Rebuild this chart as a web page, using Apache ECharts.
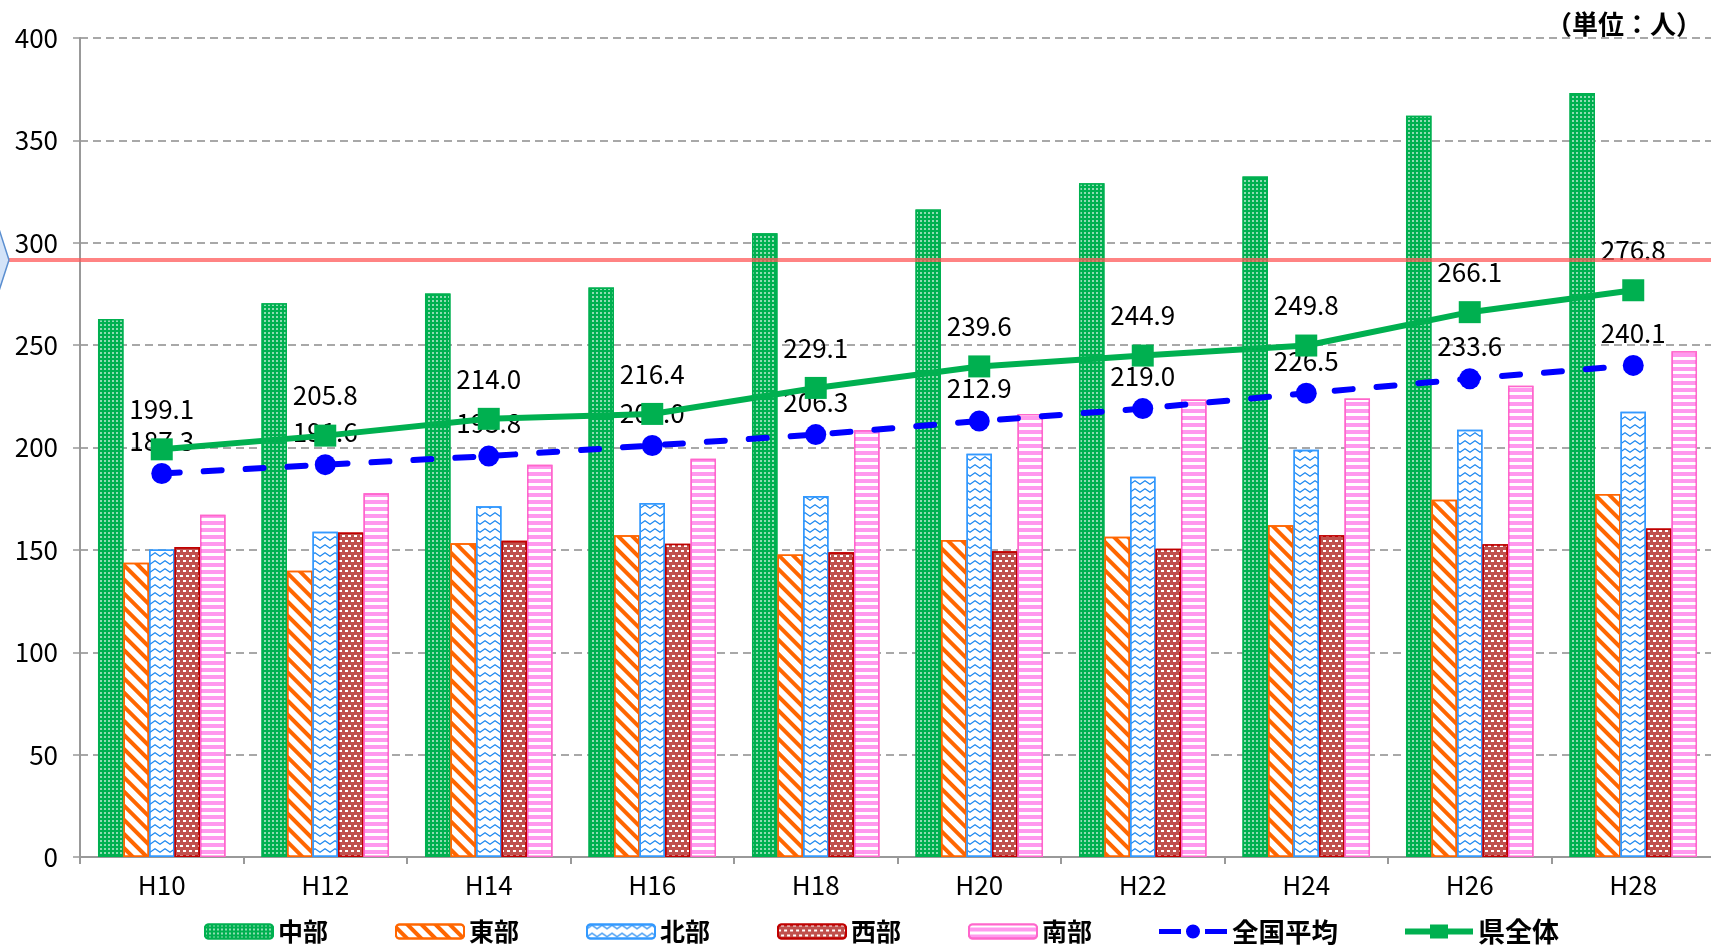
<!DOCTYPE html>
<html lang="ja">
<head>
<meta charset="utf-8">
<title>地域別の推移</title>
<script src="https://cdn.jsdelivr.net/npm/echarts@6/dist/echarts.min.js"></script>
<style>
  html, body { margin: 0; padding: 0; background: #ffffff; overflow: hidden; }
  /* 最終区分がやや右にはみ出すため、描画領域を画面幅より広く取る */
  #chart { width: 1725px; height: 946px; }
</style>
</head>
<body>
<div id="chart"></div>
<script>
// 年度（平成）
const categories = ['H10', 'H12', 'H14', 'H16', 'H18', 'H20', 'H22', 'H24', 'H26', 'H28'];

// 地域別の値（人）
const chubu  = [262.8, 270.5, 275.2, 278.1, 304.7, 316.2, 329.1, 332.4, 362.0, 373.1];
const tobu   = [143.7, 139.8, 153.2, 157.1, 147.8, 154.8, 156.4, 162.0, 174.5, 177.3];
const hokubu = [150.2, 158.9, 171.3, 172.9, 176.3, 197.0, 185.7, 198.9, 208.7, 217.5];
const seibu  = [151.4, 158.5, 154.4, 153.0, 148.9, 149.3, 150.5, 157.2, 152.8, 160.5];
const nanbu  = [167.2, 177.6, 191.6, 194.5, 208.5, 216.4, 223.4, 223.9, 230.1, 247.0];

// 全国平均・県全体
const national   = [187.3, 191.6, 195.8, 201.0, 206.3, 212.9, 219.0, 226.5, 233.6, 240.1];
const prefecture = [199.1, 205.8, 214.0, 216.4, 229.1, 239.6, 244.9, 249.8, 266.1, 276.8];

// 縦軸の目盛
const yMin = 0;
const yMax = 400;
const yStep = 50;

// 赤い横線の位置（値）
const redGuideValue = 291.6;

const FONT = '"Noto Sans CJK JP", "Noto Sans", sans-serif';

// 凡例用アイコン（線＋マーカー）
const ICON_LINE_CIRCLE = 'path://M0,4.5 L22,4.5 L22,9.5 L0,9.5 Z M46,4.5 L68,4.5 L68,9.5 L46,9.5 Z M27,7 A7,7 0 1,0 41,7 A7,7 0 1,0 27,7 Z';
const ICON_LINE_SQUARE = 'path://M0,4 L25,4 L25,0 L43,0 L43,4 L68,4 L68,10 L43,10 L43,14 L25,14 L25,10 L0,10 Z';

const chart = echarts.init(document.getElementById('chart'), null, { renderer: 'canvas' });

function barSeries(name, data, itemStyle) {
  return {
    name: name,
    type: 'bar',
    data: data,
    barGap: '0%',
    barCategoryGap: '22%',
    itemStyle: itemStyle,
    emphasis: { disabled: true },
    z: 2
  };
}

const series = [
  barSeries('中部', chubu, {
    color: '#00B050',
    borderColor: '#00B050',
    borderWidth: 1.5,
    decal: { symbol: 'rect', color: '#ffffff', symbolSize: 0.75, dashArrayX: [2, 2], dashArrayY: [2, 2] }
  }),
  barSeries('東部', tobu, {
    color: '#ffffff',
    borderColor: '#FF6600',
    borderWidth: 1.5,
    decal: { symbol: 'rect', color: '#FF6600', symbolSize: 1, dashArrayX: [1, 0], dashArrayY: [4, 6], rotation: Math.PI / 4 }
  }),
  barSeries('北部', hokubu, {
    color: '#ffffff',
    borderColor: '#3399FF',
    borderWidth: 1.5,
    decal: {
      symbol: 'path://M0,3.6 L5,0 L10,3.6 L10,5 L5,1.4 L0,5 Z',
      symbolKeepAspect: false,
      color: '#1E88F0',
      symbolSize: 1,
      dashArrayX: [10, 0],
      dashArrayY: [5, 3]
    }
  }),
  barSeries('西部', seibu, {
    color: '#C0504D',
    borderColor: '#C00000',
    borderWidth: 1.5,
    decal: { symbol: 'rect', color: '#ffffff', symbolSize: 1, dashArrayX: [[3, 3], [0, 3, 3, 0]], dashArrayY: [2, 3] }
  }),
  barSeries('南部', nanbu, {
    color: '#FF99EE',
    borderColor: '#FF66CC',
    borderWidth: 1.5,
    decal: { symbol: 'rect', color: '#ffffff', symbolSize: 1, dashArrayX: [1, 0], dashArrayY: [3, 4] }
  }),
  {
    name: '全国平均',
    type: 'line',
    data: national,
    symbol: 'circle',
    symbolSize: 21,
    z: 5,
    lineStyle: { color: '#0000FF', width: 6, type: [18, 24], cap: 'round' },
    itemStyle: { color: '#0000FF' },
    label: {
      show: true,
      position: 'top',
      distance: 9,
      color: '#000000',
      fontSize: 26,
      fontFamily: FONT,
      formatter: p => p.value.toFixed(1)
    },
    emphasis: { disabled: true }
  },
  {
    name: '県全体',
    type: 'line',
    data: prefecture,
    symbol: 'rect',
    symbolSize: 22,
    z: 6,
    lineStyle: { color: '#00B050', width: 6 },
    itemStyle: { color: '#00B050' },
    label: {
      show: true,
      position: 'top',
      distance: 16,
      color: '#000000',
      fontSize: 26,
      fontFamily: FONT,
      formatter: p => p.value.toFixed(1)
    },
    emphasis: { disabled: true }
  }
];

chart.setOption({
  animation: false,
  backgroundColor: '#ffffff',
  textStyle: { fontFamily: FONT },
  title: {
    text: '（単位：人）',
    right: 18,
    top: 6,
    textStyle: { fontSize: 26, fontWeight: 'bold', color: '#000000', fontFamily: FONT }
  },
  grid: { left: 80, top: 38, width: 1635, height: 819, containLabel: false },
  legend: {
    left: 199,
    top: 913,
    itemWidth: 68,
    itemHeight: 14,
    itemGap: 67,
    data: [
      '中部', '東部', '北部', '西部', '南部',
      { name: '全国平均', icon: ICON_LINE_CIRCLE, textStyle: { fontSize: 26.5 } },
      { name: '県全体', icon: ICON_LINE_SQUARE, textStyle: { fontSize: 27 } }
    ],
    textStyle: { fontSize: 25, fontWeight: 'bold', color: '#000000', fontFamily: FONT }
  },
  xAxis: {
    type: 'category',
    data: categories,
    boundaryGap: true,
    axisLine: { lineStyle: { color: '#999999', width: 2 } },
    axisTick: { show: true, interval: 0, length: 7, lineStyle: { color: '#999999', width: 2 } },
    axisLabel: { color: '#000000', fontSize: 26, margin: 15, fontFamily: FONT, interval: 0 }
  },
  yAxis: {
    type: 'value',
    min: yMin,
    max: yMax,
    interval: yStep,
    axisLine: { show: true, lineStyle: { color: '#999999', width: 2 } },
    axisTick: { show: true, length: 7, lineStyle: { color: '#999999', width: 1.5 } },
    axisLabel: { color: '#000000', fontSize: 26, margin: 22, fontFamily: FONT },
    splitLine: { show: true, lineStyle: { color: '#8c8c8c', width: 1.5, type: [8, 5] } }
  },
  series: series
});

// 赤い横線と左端の矢印
const guideY = chart.convertToPixel({ yAxisIndex: 0 }, redGuideValue);
chart.setOption({
  graphic: [
    {
      type: 'line',
      z: 100,
      shape: { x1: 8, y1: guideY, x2: 1725, y2: guideY },
      style: { stroke: 'rgba(255, 90, 90, 0.75)', lineWidth: 4 }
    },
    {
      type: 'polygon',
      z: 101,
      shape: { points: [[-2, guideY - 34], [9, guideY], [-2, guideY + 34]] },
      style: { fill: '#D3E3F8', stroke: '#5A8ED0', lineWidth: 1.5 }
    }
  ]
});
</script>
</body>
</html>
